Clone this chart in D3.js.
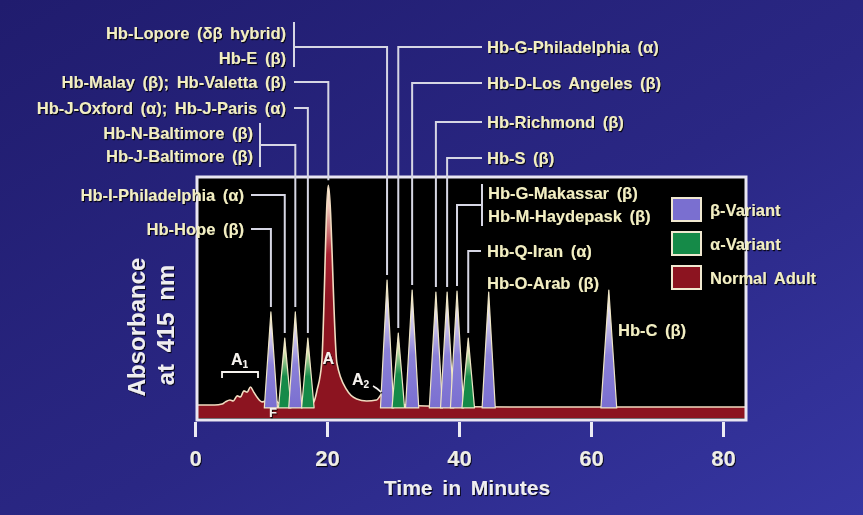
<!DOCTYPE html>
<html>
<head>
<meta charset="utf-8">
<script src="https://cdn.jsdelivr.net/npm/d3@7"></script>
<style>
  html, body { margin: 0; padding: 0; background: #2a2784; }
  svg { display: block; }
  text { font-family: "Liberation Sans", Arial, sans-serif; font-weight: bold; }
</style>
</head>
<body>
<div id="chart"></div>
<script>
// peaks of the variant haemoglobins
const peakNames = ["Hb-Hope", "Hb-I-Philadelphia", "Hb-N/J-Baltimore", "Hb-J-Oxford/J-Paris",
  "Hb-Lopore/E", "Hb-G-Philadelphia", "Hb-D-Los Angeles", "Hb-Richmond", "Hb-S",
  "Hb-G-Makassar/M-Haydepask", "Hb-Q-Iran", "Hb-O-Arab", "Hb-C"];
const peakChain = ["β", "α", "β", "α", "β", "α", "β", "β", "β", "β", "α", "β", "β"];
const peakTime = [11.5, 13.6, 15.2, 17.1, 29.1, 30.8, 32.9, 36.5, 38.2, 39.7, 41.4, 44.5, 62.7];
const peakHeight = [44.2, 33.3, 44.2, 33.3, 57.5, 35.4, 53.3, 52.5, 52.5, 52.9, 33.3, 52.5, 53.3];
const peakHalfWidth = [1.0, 0.95, 1.0, 0.95, 1.0, 0.95, 1.0, 1.0, 1.0, 1.0, 0.95, 1.0, 1.2];

// normal adult trace (A1, F, A, A2)
const normalTime = [0, 3, 4.1, 4.6, 5.3, 5.8, 6.4, 6.9, 7.4, 7.9, 8.4, 8.9, 9.5, 10.2, 11.0, 11.6, 12.3,
  13, 17.5, 18.0, 18.5, 19.2, 20.2, 21.5, 23.0, 24.5, 26, 27.5, 28.3, 29.2, 30, 30.8, 35, 50, 70, 84];
const normalAbs = [5.4, 5.4, 5.8, 6.7, 7.5, 7.1, 9.2, 8.8, 11.3, 10.8, 12.9, 10.8, 8.3, 6.7, 7.5, 9.2, 7.1,
  5.8, 5.8, 6.7, 11.7, 22.9, 97, 22.9, 11.7, 7.9, 7.1, 7.5, 10, 10.8, 8.3, 5.8, 5, 4.6, 4.6, 4.6];
const hbATime = 20.2, hbAAbs = 97;

const xTicks = [0, 20, 40, 60, 80];
const legendLabels = ["β-Variant", "α-Variant", "Normal Adult"];

// label layout (peak index -1 = Hb A)
const annotations = [
  {lines: ["Hb-Lopore (δβ hybrid)", "Hb-E (β)"], ty: [33, 58], side: "left", tx: 286, sx: 294, ey: 47, peak: 4, bracket: [22, 67]},
  {lines: ["Hb-Malay (β); Hb-Valetta (β)"], ty: [82], side: "left", tx: 286, sx: 294, ey: 82, peak: -1},
  {lines: ["Hb-J-Oxford (α); Hb-J-Paris (α)"], ty: [108], side: "left", tx: 286, sx: 294, ey: 108, peak: 3},
  {lines: ["Hb-N-Baltimore (β)", "Hb-J-Baltimore (β)"], ty: [133, 156], side: "left", tx: 253, sx: 260, ey: 145, peak: 2, bracket: [123, 167]},
  {lines: ["Hb-I-Philadelphia (α)"], ty: [195], side: "left", tx: 244, sx: 251, ey: 195, peak: 1},
  {lines: ["Hb-Hope (β)"], ty: [229], side: "left", tx: 244, sx: 251, ey: 229, peak: 0},
  {lines: ["Hb-G-Philadelphia (α)"], ty: [47], side: "right", tx: 487, sx: 482, ey: 47, peak: 5},
  {lines: ["Hb-D-Los Angeles (β)"], ty: [83], side: "right", tx: 487, sx: 482, ey: 83, peak: 6},
  {lines: ["Hb-Richmond (β)"], ty: [122], side: "right", tx: 487, sx: 482, ey: 122, peak: 7},
  {lines: ["Hb-S (β)"], ty: [158], side: "right", tx: 487, sx: 482, ey: 158, peak: 8},
  {lines: ["Hb-G-Makassar (β)", "Hb-M-Haydepask (β)"], ty: [193, 216], side: "right", tx: 488, sx: 482, ey: 205, peak: 9, bracket: [184, 226]},
  {lines: ["Hb-Q-Iran (α)"], ty: [251], side: "right", tx: 487, sx: 481, ey: 251, peak: 10},
  {lines: ["Hb-O-Arab (β)"], ty: [283], side: "right", tx: 487, peak: null},
  {lines: ["Hb-C (β)"], ty: [330], side: "right", tx: 618, peak: null}
];

const width = 863, height = 515;
const box = {left: 197, top: 177, right: 746, bottom: 420};
const colors = {β: "#7a6fd0", α: "#158a48", N: "#8c1420"};
const textColor = "#f2eec2";
const lineColor = "#d6d6e4";

const svg = d3.select("#chart").append("svg")
  .attr("width", width).attr("height", height);

const defs = svg.append("defs");
const bg = defs.append("linearGradient").attr("id", "bg")
  .attr("x1", 0).attr("y1", 0).attr("x2", 1).attr("y2", 1);
bg.append("stop").attr("offset", "0%").attr("stop-color", "#201c6e");
bg.append("stop").attr("offset", "55%").attr("stop-color", "#2a2784");
bg.append("stop").attr("offset", "100%").attr("stop-color", "#3636a2");

// peak colour fades to pale cream at the tip
["β", "α"].forEach(k => {
  const g = defs.append("linearGradient").attr("id", "grad" + (k === "β" ? "b" : "a"))
    .attr("x1", 0).attr("y1", 0).attr("x2", 0).attr("y2", 1);
  g.append("stop").attr("offset", "0%").attr("stop-color", "#fdf8dc");
  g.append("stop").attr("offset", "18%").attr("stop-color", k === "β" ? "#e2dcf2" : "#e8ecb8");
  g.append("stop").attr("offset", "55%").attr("stop-color", k === "β" ? "#8a80d8" : colors[k]);
  g.append("stop").attr("offset", "100%").attr("stop-color", colors[k]);
});

const x = d3.scaleLinear().domain([0, 80]).range([195, 723]);
const y = d3.scaleLinear().domain([0, 100]).range([418, 178]);

const redGrad = defs.append("linearGradient").attr("id", "gradN")
  .attr("gradientUnits", "userSpaceOnUse")
  .attr("x1", 0).attr("x2", 0).attr("y1", y(hbAAbs)).attr("y2", 300);
redGrad.append("stop").attr("offset", "0%").attr("stop-color", "#fff7e4");
redGrad.append("stop").attr("offset", "20%").attr("stop-color", "#f0c4b8");
redGrad.append("stop").attr("offset", "60%").attr("stop-color", "#a82030");
redGrad.append("stop").attr("offset", "100%").attr("stop-color", colors.N);

const shadow = defs.append("filter").attr("id", "shadow")
  .attr("x", "-10%").attr("y", "-30%").attr("width", "130%").attr("height", "160%");
shadow.append("feDropShadow").attr("dx", 1).attr("dy", 1.2)
  .attr("stdDeviation", 0.6).attr("flood-color", "#000").attr("flood-opacity", 0.85);

defs.append("clipPath").attr("id", "plotClip").append("rect")
  .attr("x", box.left).attr("y", box.top)
  .attr("width", box.right - box.left).attr("height", box.bottom - box.top);

svg.append("rect").attr("width", width).attr("height", height).attr("fill", "url(#bg)");

// plot area
svg.append("rect")
  .attr("x", box.left).attr("y", box.top)
  .attr("width", box.right - box.left).attr("height", box.bottom - box.top)
  .attr("fill", "#000");

const plot = svg.append("g").attr("clip-path", "url(#plotClip)");

const normal = d3.zip(normalTime, normalAbs);
plot.append("path")
  .datum(normal)
  .attr("fill", "url(#gradN)")
  .attr("d", d3.area().x(d => x(d[0])).y0(y(0)).y1(d => y(d[1])).curve(d3.curveMonotoneX));
plot.append("path")
  .datum(normal)
  .attr("fill", "none")
  .attr("stroke", "#f1dcc0")
  .attr("stroke-width", 1.6)
  .attr("d", d3.line().x(d => x(d[0])).y(d => y(d[1])).curve(d3.curveMonotoneX));

const peakLine = d3.line().x(d => x(d[0])).y(d => y(d[1]));
plot.append("g")
  .selectAll("path")
  .data(d3.range(peakNames.length))
  .join("path")
  .attr("fill", i => peakChain[i] === "β" ? "url(#gradb)" : "url(#grada)")
  .attr("stroke", "#efe6c6")
  .attr("stroke-width", 1.2)
  .attr("stroke-linejoin", "round")
  .attr("d", i => peakLine([
    [peakTime[i] - peakHalfWidth[i], 4.2],
    [peakTime[i], peakHeight[i]],
    [peakTime[i] + peakHalfWidth[i], 4.2]
  ]) + "Z");

// frame
svg.append("rect")
  .attr("x", box.left).attr("y", box.top)
  .attr("width", box.right - box.left).attr("height", box.bottom - box.top)
  .attr("fill", "none").attr("stroke", "#e9e6f2").attr("stroke-width", 3);

// x axis
const axis = svg.append("g")
  .attr("transform", `translate(0,${box.bottom + 2})`)
  .call(d3.axisBottom(x).tickValues(xTicks).tickSize(15).tickPadding(13));
axis.select(".domain").remove();
axis.selectAll(".tick line").attr("stroke", "#ecebf4").attr("stroke-width", 3);
axis.selectAll(".tick text")
  .attr("fill", "#efeee6").attr("font-size", 22).attr("filter", "url(#shadow)")
  .style("font-family", "'Liberation Sans', Arial, sans-serif").style("font-weight", "bold");

svg.append("text")
  .attr("x", 467).attr("y", 495)
  .attr("text-anchor", "middle")
  .attr("fill", "#efeef0").attr("font-size", 21).attr("word-spacing", 4)
  .attr("filter", "url(#shadow)")
  .text("Time in Minutes");

// y label
const ylab = svg.append("g").attr("fill", "#efeef0").attr("font-size", 24)
  .attr("filter", "url(#shadow)").attr("text-anchor", "middle");
ylab.append("text").attr("transform", "translate(145,327) rotate(-90)").text("Absorbance");
ylab.append("text").attr("transform", "translate(174,325) rotate(-90)").attr("word-spacing", 5).text("at 415 nm");

// leader lines
const leaders = svg.append("g").attr("fill", "none").attr("stroke", lineColor).attr("stroke-width", 2);
annotations.filter(a => a.peak !== null).forEach(a => {
  const pt = a.peak < 0 ? hbATime : peakTime[a.peak];
  const ph = a.peak < 0 ? hbAAbs : peakHeight[a.peak];
  const px = x(pt);
  leaders.append("path")
    .attr("d", `M${a.sx},${a.ey}H${px}V${y(ph) - 5}`);
  if (a.bracket) {
    leaders.append("path").attr("d", `M${a.sx},${a.bracket[0]}V${a.bracket[1]}`);
  }
});

// labels
const labels = svg.append("g").attr("fill", textColor).attr("font-size", 16.5)
  .attr("word-spacing", 3).attr("filter", "url(#shadow)");
annotations.forEach(a => {
  a.lines.forEach((line, j) => {
    labels.append("text")
      .attr("x", a.tx).attr("y", a.ty[j])
      .attr("dy", "0.36em")
      .attr("text-anchor", a.side === "left" ? "end" : "start")
      .text(line);
  });
});

// normal adult component labels
const comp = svg.append("g").attr("fill", "#f6f2ee").attr("filter", "url(#shadow)");
const a1 = comp.append("text").attr("x", 231).attr("y", 365).attr("font-size", 16);
a1.append("tspan").text("A");
a1.append("tspan").attr("font-size", 10).attr("dy", 3).text("1");
comp.append("path")
  .attr("d", "M222,378V372H258V378")
  .attr("fill", "none").attr("stroke", "#f6f2ee").attr("stroke-width", 1.8);
comp.append("text").attr("x", x(11.8)).attr("y", 417).attr("text-anchor", "middle").attr("font-size", 13).text("F");
comp.append("text").attr("x", x(hbATime)).attr("y", 364).attr("text-anchor", "middle").attr("font-size", 16).text("A");
const a2 = comp.append("text").attr("x", 352).attr("y", 385).attr("font-size", 16);
a2.append("tspan").text("A");
a2.append("tspan").attr("font-size", 10).attr("dy", 3).text("2");
comp.append("path").attr("d", "M373,386 Q377,388 381,392")
  .attr("fill", "none").attr("stroke", "#f6f2ee").attr("stroke-width", 1.5);

// legend
const legend = svg.append("g").attr("transform", "translate(672,198)");
const legendItems = legend.selectAll("g")
  .data(legendLabels)
  .join("g")
  .attr("transform", (d, i) => `translate(0,${i * 34})`);
legendItems.append("rect")
  .attr("width", 29).attr("height", 23)
  .attr("fill", (d, i) => [colors.β, colors.α, colors.N][i])
  .attr("stroke", "#f0e8d0").attr("stroke-width", 2);
legendItems.append("text")
  .attr("x", 38).attr("y", 12).attr("dy", "0.36em")
  .attr("fill", textColor).attr("font-size", 16.5).attr("word-spacing", 3)
  .attr("filter", "url(#shadow)")
  .text(d => d);
</script>
</body>
</html>
